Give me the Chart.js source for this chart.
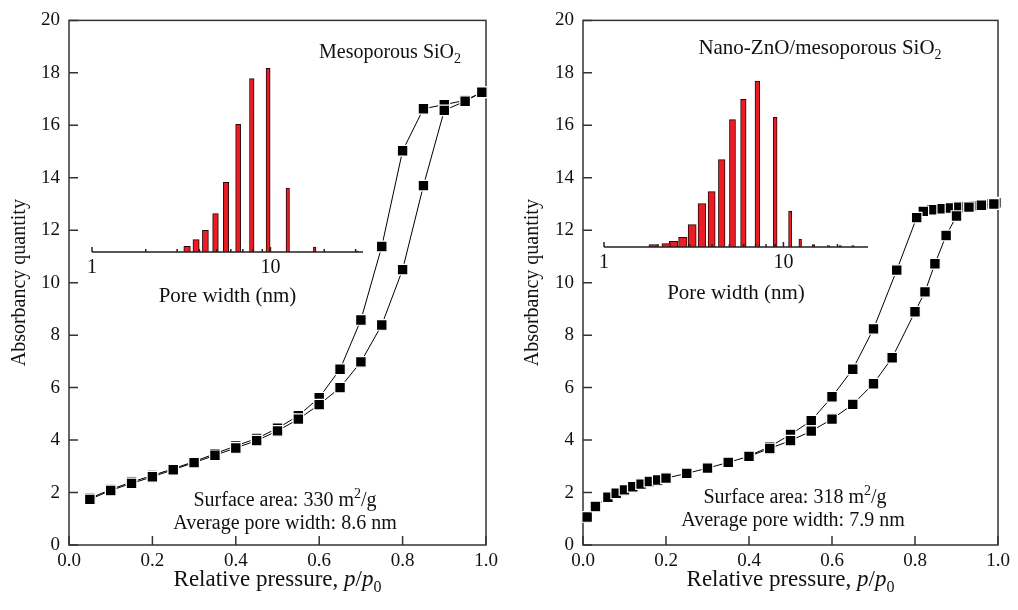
<!DOCTYPE html>
<html lang="en">
<head>
  <meta charset="UTF-8">
  <title>N2 isotherms and pore size distribution</title>
  <script src="https://cdn.jsdelivr.net/npm/chart.js"></script>
  <style>
    body {
      margin: 0;
      background: #fff;
    }
    #wrap {
      position: relative;
      width: 1018px;
      height: 610px;
    }
    canvas {
      position: absolute;
    }
  </style>
</head>
<body>
  <div id="wrap">
    <canvas id="isoA" width="509" height="610" style="left:0;top:0"></canvas>
    <canvas id="isoB" width="509" height="610" style="left:509px;top:0"></canvas>
    <canvas id="poreA" width="300" height="280" style="left:80px;top:40px"></canvas>
    <canvas id="poreB" width="300" height="280" style="left:592px;top:35px"></canvas>
  </div>

  <script>
    // Mesoporous SiO2 isotherm
    const pressureAdsA = [0.05, 0.10, 0.15, 0.20, 0.25, 0.30, 0.35, 0.40, 0.45, 0.50, 0.55, 0.60, 0.65, 0.70, 0.75, 0.80, 0.85, 0.90, 0.95, 0.99];
    const quantityAdsA = [1.74, 2.08, 2.35, 2.60, 2.87, 3.14, 3.42, 3.70, 3.98, 4.35, 4.80, 5.35, 6.00, 6.98, 8.39, 10.50, 13.70, 16.57, 16.92, 17.26];
    const pressureDesA = [0.99, 0.95, 0.90, 0.85, 0.80, 0.75, 0.70, 0.65, 0.60, 0.55, 0.50, 0.45, 0.40, 0.35, 0.30, 0.25, 0.20, 0.15, 0.10, 0.05];
    const quantityDesA = [17.26, 16.95, 16.79, 16.63, 15.03, 11.38, 8.58, 6.70, 5.62, 4.93, 4.45, 4.06, 3.78, 3.48, 3.18, 2.91, 2.65, 2.40, 2.12, 1.78];

    // Nano-ZnO/mesoporous SiO2 isotherm
    const pressureAdsB = [0.01, 0.03, 0.06, 0.08, 0.10, 0.12, 0.14, 0.16, 0.18, 0.20, 0.25, 0.30, 0.35, 0.40, 0.45, 0.50, 0.55, 0.60, 0.65, 0.70, 0.745, 0.80, 0.824, 0.848, 0.875, 0.90, 0.93, 0.96, 0.99];
    const quantityAdsB = [1.07, 1.47, 1.82, 1.97, 2.10, 2.22, 2.32, 2.42, 2.48, 2.55, 2.73, 2.93, 3.15, 3.38, 3.68, 3.98, 4.34, 4.80, 5.36, 6.15, 7.14, 8.89, 9.65, 10.72, 11.80, 12.54, 12.88, 12.95, 13.00];
    const pressureDesB = [0.995, 0.98, 0.96, 0.94, 0.92, 0.90, 0.88, 0.86, 0.84, 0.82, 0.804, 0.756, 0.70, 0.65, 0.60, 0.55, 0.50, 0.45, 0.40];
    const quantityDesB = [13.05, 13.00, 12.97, 12.93, 12.90, 12.88, 12.85, 12.82, 12.78, 12.72, 12.48, 10.48, 8.24, 6.70, 5.65, 4.74, 4.21, 3.75, 3.40];

    // pore size distributions (insets)
    const poreWidthA = [3.41, 3.83, 4.32, 4.92, 5.64, 6.59, 7.86, 9.7, 12.5, 17.7, 30.6];
    const poreVolumeA = [0.057, 0.124, 0.217, 0.384, 0.697, 1.277, 1.734, 1.837, 0.64, 0.05, 0.01];
    const poreWidthB = [1.88, 2.22, 2.44, 2.75, 3.10, 3.51, 3.98, 4.53, 5.2, 5.98, 7.16, 8.99, 10.9, 12.4, 14.7, 17.8, 20.7, 24.4];
    const poreVolumeB = [0.023, 0.033, 0.057, 0.097, 0.223, 0.433, 0.553, 0.873, 1.273, 1.477, 1.66, 1.297, 0.36, 0.08, 0.023, 0.013, 0.013, 0.013];

    const insetTicks = [1, 10];
    const insetMinorTicks = [1, 2, 3, 4, 5, 6, 7, 8, 9, 10, 20, 30];

    const serif = "'Liberation Serif', 'Times New Roman', serif";
    Chart.defaults.font.family = serif;
    Chart.defaults.color = '#111';

    // draw a line of text with italic / sub / superscript pieces, centred on cx
    function drawRich(ctx, parts, cx, baseline, size) {
      const fontOf = p => (p.i ? 'italic ' : '') + ((p.sup || p.sub) ? Math.round(size * 0.68) : size) + 'px ' + serif;
      let total = 0;
      parts.forEach(p => { ctx.font = fontOf(p); total += ctx.measureText(p.t).width; });
      let x = cx - total / 2;
      ctx.textAlign = 'left';
      ctx.textBaseline = 'alphabetic';
      parts.forEach(p => {
        ctx.font = fontOf(p);
        const dy = p.sup ? -size * 0.38 : p.sub ? size * 0.24 : 0;
        ctx.fillText(p.t, x, baseline + dy);
        x += ctx.measureText(p.t).width;
      });
    }

    const xTitle = [{ t: 'Relative pressure, ' }, { t: 'p', i: true }, { t: '/' }, { t: 'p', i: true }, { t: '0', sub: true }];

    // box, inward ticks and notes for the isotherm charts
    const frame = {
      id: 'frame',
      beforeDatasetsDraw(chart) {
        const { ctx, chartArea: a, scales: { x, y } } = chart;
        ctx.save();
        ctx.strokeStyle = '#333';
        ctx.lineWidth = 1.5;
        ctx.strokeRect(a.left, a.top, a.right - a.left, a.bottom - a.top);
        ctx.beginPath();
        x.ticks.forEach(t => {
          const px = x.getPixelForValue(t.value);
          ctx.moveTo(px, a.bottom);
          ctx.lineTo(px, a.bottom - 9);
        });
        y.ticks.forEach(t => {
          const py = y.getPixelForValue(t.value);
          ctx.moveTo(a.left, py);
          ctx.lineTo(a.left + 9, py);
        });
        ctx.stroke();
        ctx.restore();
      },
      afterDraw(chart, args, opts) {
        const { ctx, chartArea: a } = chart;
        ctx.save();
        ctx.fillStyle = '#111';
        drawRich(ctx, xTitle, (a.left + a.right) / 2, 586, 23);
        opts.notes.forEach(n => drawRich(ctx, n.parts, n.cx, n.y, n.size || 20));
        ctx.restore();
      }
    };

    function series(label, p, q) {
      return {
        label: label,
        data: p.map((v, i) => ({ x: v, y: q[i] })),
        borderColor: '#000',
        borderWidth: 1,
        pointStyle: 'rect',
        pointRadius: 7.5,
        pointBackgroundColor: '#000',
        pointBorderColor: '#fff',
        pointBorderWidth: 1.2,
        clip: false
      };
    }

    function isothermChart(id, adsP, adsQ, desP, desQ, box, notes) {
      return new Chart(document.getElementById(id), {
        type: 'line',
        data: {
          datasets: [series('Adsorption', adsP, adsQ), series('Desorption', desP, desQ)]
        },
        options: {
          responsive: false,
          animation: false,
          layout: { padding: { left: 0, right: box.padRight, top: 16, bottom: 0 } },
          plugins: {
            legend: { display: false },
            tooltip: { enabled: false },
            frame: { notes: notes }
          },
          scales: {
            x: {
              type: 'linear',
              min: 0,
              max: 1,
              ticks: { stepSize: 0.2, padding: 5, font: { size: 19 }, maxRotation: 0, callback: v => v.toFixed(1) },
              grid: { display: false, drawTicks: false },
              border: { display: false },
              afterFit: s => { s.height = 65; }
            },
            y: {
              min: 0,
              max: 20,
              ticks: { stepSize: 2, padding: 9, font: { size: 19 } },
              grid: { display: false, drawTicks: false },
              border: { display: false },
              title: { display: true, text: 'Absorbancy quantity', font: { size: 20 }, padding: { top: box.titlePad, bottom: 0 } },
              afterFit: s => { s.width = box.axisWidth; }
            }
          }
        },
        plugins: [frame]
      });
    }

    // baseline and small ticks of the inset log axis
    const insetAxis = {
      id: 'insetAxis',
      afterDatasetsDraw(chart) {
        const { ctx, chartArea: a, scales: { x } } = chart;
        ctx.save();
        ctx.strokeStyle = '#222';
        ctx.lineWidth = 1.5;
        ctx.beginPath();
        ctx.moveTo(a.left, a.bottom);
        ctx.lineTo(a.right, a.bottom);
        insetMinorTicks.forEach(v => {
          if (v > x.max) return;
          const px = x.getPixelForValue(v);
          const len = insetTicks.includes(v) ? 5 : 3;
          ctx.moveTo(px, a.bottom);
          ctx.lineTo(px, a.bottom - len);
        });
        ctx.stroke();
        ctx.restore();
      }
    };

    function poreChart(id, widths, volumes, maxWidth, thickness, box) {
      const datasets = widths.map((w, i) => ({
        label: w + ' nm',
        data: [{ x: w, y: volumes[i] }],
        backgroundColor: '#ec1c24',
        borderColor: '#2a0505',
        borderWidth: 1,
        borderSkipped: 'bottom',
        barThickness: thickness(w),
        stack: 'pores'
      }));
      return new Chart(document.getElementById(id), {
        type: 'bar',
        data: { datasets: datasets },
        options: {
          responsive: false,
          animation: false,
          layout: { padding: { left: box.left, right: box.right, top: 12, bottom: 0 } },
          plugins: { legend: { display: false }, tooltip: { enabled: false } },
          scales: {
            x: {
              type: 'logarithmic',
              min: 1,
              max: maxWidth,
              offset: false,
              afterBuildTicks: s => { s.ticks = insetTicks.map(v => ({ value: v })); },
              ticks: { font: { size: 20 }, padding: 4, autoSkip: false, maxRotation: 0, callback: v => String(v) },
              grid: { display: false, drawTicks: false },
              border: { display: false },
              title: { display: true, text: 'Pore width (nm)', font: { size: 21 }, padding: { top: 0, bottom: box.titlePad } },
              afterFit: s => { s.height = 68; }
            },
            y: { display: false, min: 0, max: 2 }
          }
        },
        plugins: [insetAxis]
      });
    }

    isothermChart('isoA', pressureAdsA, quantityAdsA, pressureDesA, quantityDesA,
      { axisWidth: 69, padRight: 23, titlePad: 8 },
      [
        { cx: 390, y: 58, parts: [{ t: 'Mesoporous SiO' }, { t: '2', sub: true }] },
        { cx: 285, y: 506, parts: [{ t: 'Surface area: 330 m' }, { t: '2', sup: true }, { t: '/g' }] },
        { cx: 285, y: 529, parts: [{ t: 'Average pore width: 8.6 nm' }] }
      ]);

    isothermChart('isoB', pressureAdsB, quantityAdsB, pressureDesB, quantityDesB,
      { axisWidth: 74, padRight: 20, titlePad: 12 },
      [
        { cx: 311, y: 54, size: 21, parts: [{ t: 'Nano-ZnO/mesoporous SiO' }, { t: '2', sub: true }] },
        { cx: 286, y: 503, parts: [{ t: 'Surface area: 318 m' }, { t: '2', sup: true }, { t: '/g' }] },
        { cx: 284, y: 526, parts: [{ t: 'Average pore width: 7.9 nm' }] }
      ]);

    poreChart('poreA', poreWidthA, poreVolumeA, 33,
      w => Math.max(2.5, Math.min(7, 9.5 - 5.5 * Math.log10(w))),
      { left: 12, right: 17, titlePad: 11 });

    poreChart('poreB', poreWidthB, poreVolumeB, 29.6,
      w => Math.max(2.5, Math.min(8.5, 12.5 - 9 * Math.log10(w))),
      { left: 12, right: 24, titlePad: 9 });
  </script>
</body>
</html>
